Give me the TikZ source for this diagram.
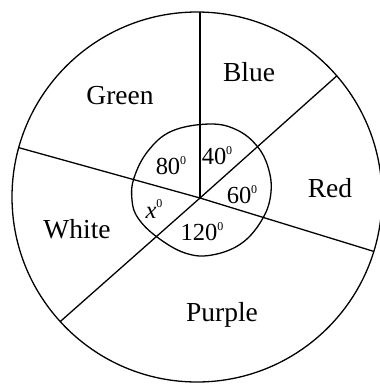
\documentclass[tikz,border=0pt]{standalone}
\usepackage{fontspec}
\setmainfont{Liberation Serif}
\usetikzlibrary{calc}
\newcommand{\dg}{\raisebox{0.9ex}{\fontsize{12}{12}\selectfont 0}}
\begin{document}
\begin{tikzpicture}[x=1pt,y=-1pt,
  ln/.style={line width=1.3pt,black},
  lab/.style={font=\fontsize{27.5}{30}\selectfont,inner sep=0pt},
  ang/.style={font=\fontsize{24.5}{26}\selectfont,inner sep=0pt}]
\useasboundingbox (0,0) rectangle (380,384);
\coordinate (C) at (197,197);
\coordinate (O) at (200,198);
\coordinate (pT) at (200,-20);
\coordinate (pUR) at ($(O)+1.3*(140,-125)$);
\coordinate (pL) at ($(O)+1.3*(-180,-50)$);
\coordinate (pR) at ($(O)+1.3*(179,55)$);
\coordinate (pLL) at ($(O)+1.3*(-138,122)$);
\begin{scope}
\clip (C) circle[radius=185];
\draw[ln] (O) -- (pT);
\draw[ln] (O) -- (pUR);
\draw[ln] (O) -- (pL);
\draw[ln] (O) -- (pR);
\draw[ln] (O) -- (pLL);
\end{scope}
\draw[ln] (C) circle[radius=185];
\draw[ln] plot[smooth cycle,tension=0.65] coordinates {(210,124) (237,130) (257,146) (268,167) (271,192) (263,218) (242,243) (212,255) (185,253) (157,237) (138,218) (132,200) (134,178) (148,151) (172,131)};
\node[lab] (blue) at (249,72) {Blue};
\node[lab] (green) at (120,96) {Green};
\node[lab] (red) at (330,188) {Red};
\node[lab] (white) at (77,229) {White};
\node[lab] (purple) at (222,315) {Purple};
\node[ang] (a80) at (171,166) {80\dg};
\node[ang] (a40) at (217,156) {40\dg};
\node[ang] (a60) at (242,195) {60\dg};
\node[ang] (a120) at (202,232) {120\dg};
\node[ang] (ax) at (154,209) {\textit{x}\dg};
\end{tikzpicture}
\end{document}
